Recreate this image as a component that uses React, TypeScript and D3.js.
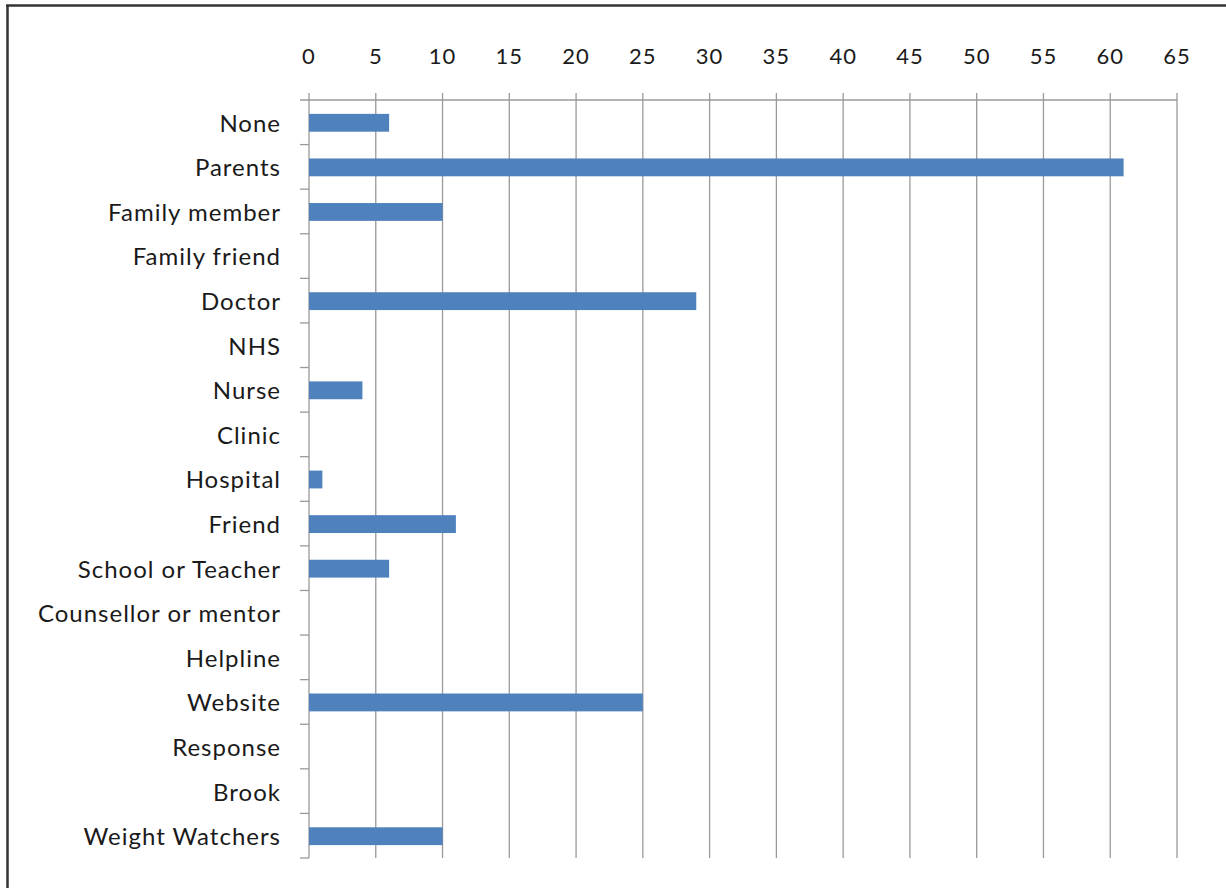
import React from "react";
import * as d3 from "d3";

const categories = [
  "None",
  "Parents",
  "Family member",
  "Family friend",
  "Doctor",
  "NHS",
  "Nurse",
  "Clinic",
  "Hospital",
  "Friend",
  "School or Teacher",
  "Counsellor or mentor",
  "Helpline",
  "Website",
  "Response",
  "Brook",
  "Weight Watchers",
];

const counts = [6, 61, 10, 0, 29, 0, 4, 0, 1, 11, 6, 0, 0, 25, 0, 0, 10];

const xTicks = [0, 5, 10, 15, 20, 25, 30, 35, 40, 45, 50, 55, 60, 65];

const W = 1226;
const H = 888;
const FONT = "Lato, 'Open Sans', sans-serif";

export default function App() {
  const left = 309;
  const right = 1177;
  const top = 100;
  const bottom = 858;

  const x = d3.scaleLinear().domain([0, 65]).range([left, right]);
  const y = d3
    .scaleBand<string>()
    .domain(categories)
    .range([top, bottom])
    .paddingInner(0.6)
    .paddingOuter(0.3);
  const band = (bottom - top) / categories.length;

  return (
    <svg
      width={W}
      height={H}
      style={{ position: "absolute", left: 0, top: 0, background: "#fff" }}
    >
      <rect x={0} y={0} width={W} height={H} fill="#fff" />
      {/* frame */}
      <line x1={7.5} y1={5} x2={7.5} y2={H} stroke="#333" strokeWidth={2.5} />
      <line x1={6} y1={5.5} x2={W} y2={5.5} stroke="#333" strokeWidth={2.5} />

      {/* vertical gridlines with ticks above the axis */}
      {xTicks.map((t) => (
        <line
          key={"g" + t}
          x1={x(t)}
          x2={x(t)}
          y1={top - 7}
          y2={bottom}
          stroke="#9a9a9a"
          strokeWidth={1.3}
        />
      ))}
      {/* top axis line */}
      <line x1={left - 9} x2={right} y1={top} y2={top} stroke="#9a9a9a" strokeWidth={1.3} />
      {/* category ticks */}
      {categories.map((c, i) => (
        <line
          key={"t" + c}
          x1={left - 9}
          x2={left}
          y1={top + band * (i + 1)}
          y2={top + band * (i + 1)}
          stroke="#9a9a9a"
          strokeWidth={1.3}
        />
      ))}

      {/* bars */}
      {categories.map((c, i) =>
        counts[i] > 0 ? (
          <rect
            key={"b" + c}
            x={x(0)}
            y={y(c)! + 0.5}
            width={x(counts[i]) - x(0)}
            height={y.bandwidth()}
            fill="#4F81BD"
          />
        ) : null
      )}

      {/* x tick labels */}
      {xTicks.map((t) => (
        <text
          key={"l" + t}
          x={x(t)}
          y={64}
          textAnchor="middle"
          fontFamily={FONT}
          fontSize={22}
          letterSpacing={1}
          fill="#1a1a1a"
        >
          {t}
        </text>
      ))}

      {/* category labels */}
      {categories.map((c) => (
        <text
          key={"c" + c}
          x={281}
          y={y(c)! + y.bandwidth() / 2 + 1}
          dy="0.35em"
          textAnchor="end"
          fontFamily={FONT}
          fontSize={24}
          letterSpacing={1}
          fill="#1a1a1a"
        >
          {c}
        </text>
      ))}
    </svg>
  );
}
